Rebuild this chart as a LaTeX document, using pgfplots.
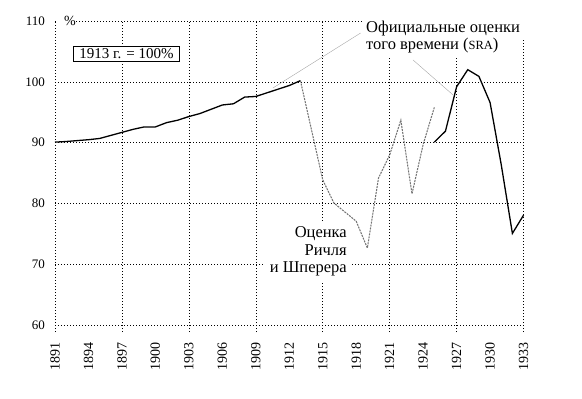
\documentclass[border=0pt]{standalone}
\usepackage{fontspec}
\setmainfont{Liberation Serif}
\usepackage{pgfplots}
\pgfplotsset{compat=1.18}
\begin{document}
\fontsize{12.5}{15}\selectfont
\begin{tikzpicture}
\begin{axis}[
 scale only axis, width=468.5pt, height=311pt,
 xmin=1891, xmax=1933, ymin=58.9, ymax=110,
 axis line style={draw=none},
 major tick length=0pt,
 xtick={1891,1894,...,1933},
 xticklabels={1891,1894,1897,1900,1903,1906,1909,1912,1915,1918,1921,1924,1927,1930,1933},
 ytick={60,70,...,110},
 yticklabels={60,70,80,90,100,110},
 ymajorgrids,
 grid style={black, line width=0.6pt, dash pattern=on 0.6pt off 2.4pt},
 extra x ticks={1891,1897,...,1933},
 extra x tick labels={},
 extra x tick style={grid=major},
 xticklabel style={yshift=-10pt, rotate=90, anchor=east, inner sep=0pt, font=\fontsize{14}{16}\selectfont},
 yticklabel style={xshift=-10pt, anchor=east, inner sep=0pt, font=\fontsize{13}{15}\selectfont},
 clip=false,
]
\addplot[black, line width=1.3pt] coordinates {
(1891,90.1) (1892,90.2) (1893,90.35) (1894,90.5) (1895,90.7) (1896,91.2) (1897,91.7)
(1898,92.2) (1899,92.6) (1900,92.6) (1901,93.3) (1902,93.7) (1903,94.3) (1904,94.8)
(1905,95.5) (1906,96.2) (1907,96.4) (1908,97.5) (1909,97.6) (1910,98.2) (1911,98.8)
(1912,99.4) (1913,100.2)};
\addplot[black!55, line width=1.05pt, dash pattern=on 2pt off 1pt] coordinates {
(1913,100.2) (1915,83.9) (1916,80.1) (1918,77.1) (1919,72.7) (1920,84.2)
(1921,88.0) (1922,93.7) (1923,81.6) (1924,89.7) (1925,95.8)};
\addplot[black, line width=1.3pt] coordinates {
(1925,90.1) (1926,91.9) (1927,99.2) (1928,102.0) (1929,100.9) (1930,96.6)
(1931,86.4) (1932,75.1) (1933,78.1)};
\node[fill=white, inner sep=0pt, minimum height=10pt, anchor=west, font=\fontsize{14}{16}\selectfont] at (axis cs:1891.18,110) {\hspace{7pt}\%\hspace{12pt}};
\node[draw, line width=0.6pt, fill=white, inner xsep=6pt, inner ysep=2.5pt, font=\fontsize{15}{17}\selectfont] at (axis cs:1897.41,104.58) {1913 г. = 100\%};
\node[fill=white, inner xsep=4pt, inner ysep=3pt, anchor=base west, font=\fontsize{16.5}{18}\selectfont] at (axis cs:1918.52,108.03) {Официальные оценки};
\node[fill=white, inner xsep=4pt, inner ysep=3pt, anchor=base west, font=\fontsize{16.5}{18}\selectfont] at (axis cs:1918.52,105.24) {того времени ({\fontsize{12.5}{14}\selectfont SRA})};
\draw[gray!70, line width=0.4pt] (axis cs:1918.4,108.03) -- (axis cs:1910.54,99.0);
\draw[gray!70, line width=0.4pt] (axis cs:1923.09,103.6) -- (axis cs:1926.68,97.85);
\node[fill=white, align=right, inner sep=5pt, anchor=north east, font=\fontsize{16.5}{17.5}\selectfont] at (axis cs:1917.62,77.0) {Оценка\\Ричля\\и Шперера};
\coordinate (bbSW) at (axis cs:1886.07,48.06);
\coordinate (bbNE) at (axis cs:1938.24,113.45);
\end{axis}
\pgfresetboundingbox
\path[use as bounding box] (bbSW) rectangle (bbNE);
\end{tikzpicture}
\end{document}
